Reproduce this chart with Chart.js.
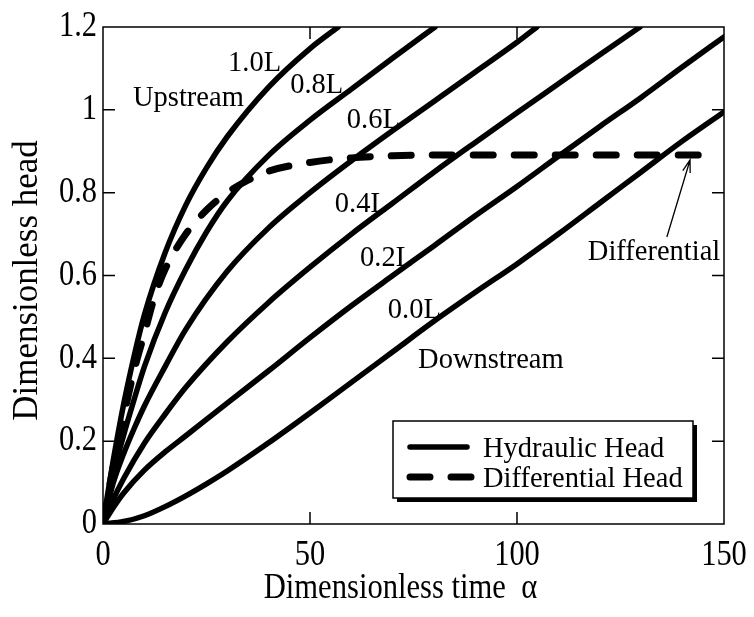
<!DOCTYPE html>
<html>
<head>
<meta charset="utf-8">
<script src="https://cdn.jsdelivr.net/npm/chart.js@4/dist/chart.umd.min.js"></script>
<style>
  html, body { margin: 0; padding: 0; background: #fff; }
  #wrap { width: 754px; height: 617px; }
</style>
</head>
<body>
<div id="wrap"><canvas id="myChart" width="754" height="617"></canvas></div>
<script>
// head vs. dimensionless time at each position along the sample (fraction of L)
var t_10 = [0, 1, 2.5, 5, 7.5, 10, 15, 20, 25, 30, 40, 50, 56.8];
var h_10 = [0, 0.065, 0.155, 0.29, 0.405, 0.505, 0.655, 0.77, 0.86, 0.935, 1.055, 1.148, 1.2];

var t_08 = [0, 2.5, 5, 7.5, 10, 15, 20, 25, 30, 40, 50, 60, 70, 80.2];
var h_08 = [0, 0.12, 0.215, 0.3, 0.38, 0.51, 0.615, 0.705, 0.78, 0.89, 0.975, 1.05, 1.125, 1.2];

var t_06 = [0, 2.5, 5, 7.5, 10, 15, 20, 30, 40, 50, 60, 70, 80, 90, 100, 104.8];
var h_06 = [0, 0.1, 0.17, 0.23, 0.285, 0.38, 0.47, 0.61, 0.715, 0.8, 0.877, 0.95, 1.021, 1.092, 1.163, 1.2];

var t_04 = [0, 2.5, 5, 10, 15, 20, 30, 40, 50, 60, 70, 80, 90, 100, 110, 120, 129.7];
var h_04 = [0, 0.06, 0.11, 0.195, 0.265, 0.33, 0.44, 0.535, 0.62, 0.7, 0.775, 0.85, 0.922, 0.993, 1.063, 1.133, 1.2];

var t_02 = [0, 2.5, 5, 10, 15, 20, 30, 40, 50, 60, 70, 80, 90, 100, 110, 120, 130, 140, 150];
var h_02 = [0, 0.04, 0.075, 0.13, 0.174, 0.213, 0.292, 0.37, 0.45, 0.527, 0.6, 0.672, 0.745, 0.815, 0.888, 0.96, 1.03, 1.104, 1.176];

var t_00 = [0, 5, 10, 15, 20, 25, 30, 40, 50, 60, 70, 80, 90, 100, 110, 120, 130, 140, 150];
var h_00 = [0, 0.006, 0.02, 0.042, 0.068, 0.097, 0.128, 0.196, 0.268, 0.342, 0.416, 0.49, 0.56, 0.628, 0.7, 0.775, 0.85, 0.925, 0.995];

// differential head (upstream minus downstream)
var t_diff = [0, 2.5, 5, 7.5, 10, 12.5, 15, 20, 25, 30, 35, 40, 50, 60, 70, 80, 100, 120, 147];
var h_diff = [0, 0.14, 0.26, 0.37, 0.46, 0.55, 0.615, 0.7, 0.758, 0.8, 0.83, 0.852, 0.873, 0.884, 0.889, 0.891, 0.891, 0.891, 0.891];

var xTicks = [0, 50, 100, 150];
var yTicks = [0, 0.2, 0.4, 0.6, 0.8, 1, 1.2];
var xTitle = 'Dimensionless time  \u03b1';
var yTitle = 'Dimensionless head';

// text placed on the plot, anchored in data units (left edge, baseline)
var notes = [
    { text: '1.0L', x: 30.2, y: 1.094 },
    { text: 'Upstream', x: 7.25, y: 1.009 },
    { text: '0.8L', x: 45.2, y: 1.041 },
    { text: '0.6L', x: 58.9, y: 0.956 },
    { text: '0.4L', x: 56.0, y: 0.753 },
    { text: '0.2L', x: 62.1, y: 0.623 },
    { text: '0.0L', x: 68.8, y: 0.497 },
    { text: 'Downstream', x: 76.1, y: 0.377 },
    { text: 'Differential', x: 117.1, y: 0.637 }
];
var arrowFrom = { x: 136.2, y: 0.693 };
var arrowTo = { x: 141.8, y: 0.879 };

var serif = '"Liberation Serif", "Times New Roman", serif';

function pts(t, h) {
    return t.map(function (v, i) { return { x: v, y: h[i] }; });
}

function solid(t, h) {
    return {
        label: 'Hydraulic Head',
        data: pts(t, h),
        borderColor: '#000',
        borderWidth: 5.5,
        borderCapStyle: 'round',
        cubicInterpolationMode: 'monotone',
        pointRadius: 0,
        fill: false
    };
}

// the serif text here is a little narrower than plain Times, so squeeze it horizontally
function text(c, s, x, y, size, sx, align, base, rot) {
    c.save();
    c.translate(x, y);
    if (rot) c.rotate(rot);
    c.scale(sx, 1);
    c.font = size + 'px ' + serif;
    c.textAlign = align;
    c.textBaseline = base;
    c.fillStyle = '#000';
    c.fillText(s, 0, 0);
    c.restore();
}

var frame = {
    id: 'frame',
    afterDatasetsDraw: function (chart) {
        var c = chart.ctx, a = chart.chartArea;
        var xs = chart.scales.x, ys = chart.scales.y;
        c.save();
        c.strokeStyle = '#000';
        c.lineWidth = 1.5;
        c.strokeRect(a.left, a.top, a.right - a.left, a.bottom - a.top);

        // inward tick marks on all four sides
        var len = 12;
        c.beginPath();
        xTicks.slice(1, -1).forEach(function (v) {
            var px = xs.getPixelForValue(v);
            c.moveTo(px, a.bottom); c.lineTo(px, a.bottom - len);
            c.moveTo(px, a.top); c.lineTo(px, a.top + len);
        });
        yTicks.slice(1, -1).forEach(function (v) {
            var py = ys.getPixelForValue(v);
            c.moveTo(a.left, py); c.lineTo(a.left + len, py);
            c.moveTo(a.right, py); c.lineTo(a.right - len, py);
        });
        c.stroke();

        // tick labels and axis titles
        xTicks.forEach(function (v) {
            text(c, String(v), xs.getPixelForValue(v), a.bottom + 41, 35, 0.87, 'center', 'alphabetic');
        });
        yTicks.forEach(function (v) {
            text(c, String(Math.round(v * 10) / 10), a.left - 6, ys.getPixelForValue(v), 35, 0.87, 'right', 'middle');
        });
        text(c, xTitle, (a.left + a.right) / 2 - 13, a.bottom + 74, 36, 0.85, 'center', 'alphabetic');
        text(c, yTitle, 37, (a.top + a.bottom) / 2 + 5, 36, 0.97, 'center', 'alphabetic', -Math.PI / 2);

        // curve names
        notes.forEach(function (n) {
            text(c, n.text, xs.getPixelForValue(n.x), ys.getPixelForValue(n.y), 30, 0.95, 'left', 'alphabetic');
        });

        // arrow to the differential curve
        var x0 = xs.getPixelForValue(arrowFrom.x), y0 = ys.getPixelForValue(arrowFrom.y);
        var x1 = xs.getPixelForValue(arrowTo.x), y1 = ys.getPixelForValue(arrowTo.y);
        var ang = Math.atan2(y1 - y0, x1 - x0);
        c.lineWidth = 1.3;
        c.beginPath();
        c.moveTo(x0, y0); c.lineTo(x1, y1);
        c.moveTo(x1 - 13 * Math.cos(ang - 0.3), y1 - 13 * Math.sin(ang - 0.3));
        c.lineTo(x1, y1);
        c.lineTo(x1 - 13 * Math.cos(ang + 0.3), y1 - 13 * Math.sin(ang + 0.3));
        c.stroke();

        // legend box with drop shadow
        var bx = a.right - 331, by = a.bottom - 103, bw = 300, bh = 77;
        c.fillStyle = '#000';
        c.fillRect(bx + 4, by + 4, bw, bh);
        c.fillStyle = '#fff';
        c.fillRect(bx, by, bw, bh);
        c.lineWidth = 1.5;
        c.strokeRect(bx, by, bw, bh);

        var hs = chart.data.datasets[0], ds = chart.data.datasets[6];
        c.lineCap = 'round';
        c.lineWidth = hs.borderWidth;
        c.beginPath();
        c.moveTo(bx + 17, by + 26); c.lineTo(bx + 74, by + 26);
        c.stroke();
        c.lineWidth = ds.borderWidth;
        c.setLineDash(ds.borderDash);
        c.beginPath();
        c.moveTo(bx + 17, by + 56); c.lineTo(bx + 78, by + 56);
        c.stroke();
        c.setLineDash([]);

        text(c, hs.label, bx + 90, by + 36, 30, 0.95, 'left', 'alphabetic');
        text(c, ds.label, bx + 90, by + 66, 30, 0.95, 'left', 'alphabetic');
        c.restore();
    }
};

var ctx = document.getElementById('myChart').getContext('2d');
var myChart = new Chart(ctx, {
    type: 'line',
    data: {
        datasets: [
            solid(t_10, h_10),
            solid(t_08, h_08),
            solid(t_06, h_06),
            solid(t_04, h_04),
            solid(t_02, h_02),
            solid(t_00, h_00),
            {
                label: 'Differential Head',
                data: pts(t_diff, h_diff),
                borderColor: '#000',
                borderWidth: 7,
                borderDash: [20, 21],
                borderCapStyle: 'round',
                cubicInterpolationMode: 'monotone',
                pointRadius: 0,
                fill: false
            }
        ]
    },
    options: {
        responsive: false,
        animation: false,
        devicePixelRatio: 1,
        layout: { padding: { top: 27, right: 30, left: 0, bottom: 0 } },
        plugins: {
            legend: { display: false },
            tooltip: { enabled: false }
        },
        scales: {
            x: {
                type: 'linear',
                min: 0,
                max: 150,
                afterBuildTicks: function (axis) {
                    axis.ticks = xTicks.map(function (v) { return { value: v }; });
                },
                afterFit: function (axis) { axis.height = 93; },
                border: { display: false },
                grid: { display: false, drawTicks: false },
                ticks: { display: false }
            },
            y: {
                type: 'linear',
                min: 0,
                max: 1.2,
                afterBuildTicks: function (axis) {
                    axis.ticks = yTicks.map(function (v) { return { value: v }; });
                },
                afterFit: function (axis) { axis.width = 103; },
                border: { display: false },
                grid: { display: false, drawTicks: false },
                ticks: { display: false }
            }
        }
    },
    plugins: [frame]
});
</script>
</body>
</html>
